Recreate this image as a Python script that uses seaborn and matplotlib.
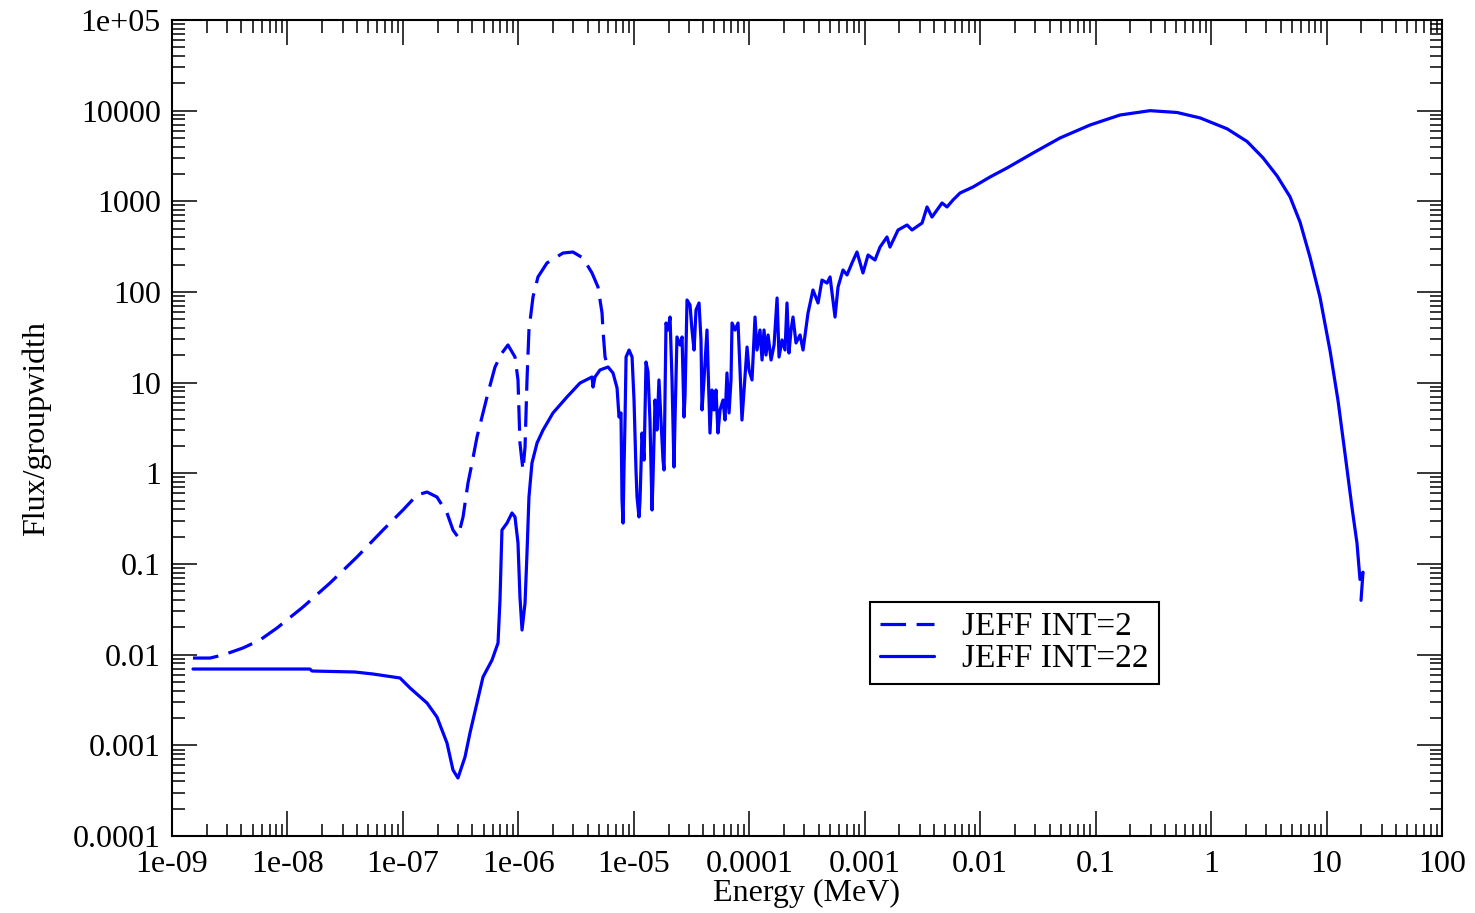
import numpy as np
import pandas as pd
import matplotlib
matplotlib.use("Agg")
import matplotlib.pyplot as plt
import matplotlib.ticker as mticker
import seaborn as sns

# --- Werte (log10 von Energie [MeV] und Flux/groupwidth) ---

# JEFF INT=2 (gestrichelt) - laeuft ab ~5e-6 MeV mit INT=22 zusammen
LOG_E_INT2 = [-8.818, -8.671, -8.558, -8.385, -8.238, -8.091, -7.865, -7.631, -7.398,
              -7.172, -6.999, -6.878, -6.791, -6.705, -6.618, -6.566, -6.523, -6.479,
              -6.436, -6.401, -6.358, -6.315, -6.263, -6.202, -6.142, -6.090, -6.029,
              -6.003, -5.986, -5.960, -5.942, -5.925, -5.908, -5.873, -5.830, -5.752,
              -5.613, -5.527, -5.440, -5.362, -5.310, -5.275, -5.267, -5.249, -5.223]
LOG_F_INT2 = [-2.037, -2.037, -2.003, -1.926, -1.838, -1.706, -1.474, -1.209, -0.923,
              -0.625, -0.404, -0.239, -0.206, -0.261, -0.437, -0.625, -0.702, -0.481,
              -0.106, 0.114, 0.401, 0.621, 0.886, 1.173, 1.327, 1.416, 1.283,
              1.030, 0.335, 0.037, 0.291, 1.030, 1.581, 1.945, 2.166, 2.320,
              2.430, 2.441, 2.375, 2.210, 2.055, 1.768, 1.581, 1.283, 1.173]

# JEFF INT=22 (durchgezogen)
LOG_E_INT22 = [
    # thermischer Bereich + Resonanzen unter 5 eV
    -8.818, -7.805, -7.787, -7.415, -7.259, -7.025, -6.938, -6.791, -6.705,
    -6.618, -6.566, -6.523, -6.462, -6.419, -6.358, -6.306, -6.228, -6.176,
    -6.159, -6.150, -6.142, -6.098, -6.055, -6.029, -6.003, -5.986, -5.968,
    -5.942, -5.925, -5.908, -5.882, -5.838, -5.786, -5.700, -5.579, -5.466,
    -5.362, -5.353, -5.336, -5.293,
    # aufgeloeste Resonanzen (10 eV - 10 keV)
    -5.223, -5.180, -5.145, -5.128, -5.111, -5.102, -5.093, -5.085, -5.076,
    -5.067, -5.041, -5.015, -4.998, -4.981, -4.972, -4.955, -4.946, -4.929,
    -4.911, -4.894, -4.877, -4.860, -4.842, -4.834, -4.816, -4.799, -4.782,
    -4.764, -4.747, -4.738, -4.730, -4.721, -4.704, -4.686, -4.669, -4.652,
    -4.643, -4.626, -4.600, -4.582, -4.565, -4.556, -4.539, -4.513, -4.496,
    -4.478, -4.461, -4.435, -4.418, -4.409, -4.392, -4.366, -4.348, -4.340,
    -4.323, -4.305, -4.288, -4.271, -4.253, -4.227, -4.210, -4.193, -4.175,
    -4.158, -4.149, -4.123, -4.097, -4.080, -4.063, -4.045, -4.019, -4.002,
    -3.976, -3.959, -3.950, -3.933, -3.907, -3.889, -3.872, -3.855, -3.837,
    -3.811, -3.785, -3.759, -3.742, -3.716, -3.690, -3.673, -3.656, -3.638,
    -3.621, -3.595, -3.560, -3.534, -3.491, -3.448, -3.404, -3.370, -3.326,
    -3.300, -3.257, -3.231, -3.188, -3.153, -3.110, -3.067, -3.015, -2.971,
    -2.911, -2.867, -2.807, -2.781, -2.711, -2.633, -2.590, -2.503, -2.460,
    -2.417, -2.330, -2.287, -2.235,
    # Schnellbereich
    -2.174, -2.062, -1.915, -1.767, -1.542, -1.308, -1.048, -0.789, -0.529,
    -0.295, -0.095, 0.139, 0.312, 0.450, 0.572, 0.684, 0.771, 0.858,
    0.944, 1.031, 1.100, 1.161, 1.221, 1.264, 1.290, 1.316, 1.299]
LOG_F_INT22 = [
    -2.158, -2.158, -2.180, -2.191, -2.213, -2.257, -2.367, -2.533, -2.687,
    -2.974, -3.272, -3.360, -3.128, -2.864, -2.533, -2.246, -2.059, -1.871,
    -1.397, -0.989, -0.625, -0.548, -0.437, -0.481, -0.768, -1.364, -1.728,
    -1.430, -0.878, -0.261, 0.114, 0.335, 0.478, 0.666, 0.842, 0.996,
    1.063, 0.952, 1.063, 1.140,
    1.173, 1.107, 0.941, 0.621, 0.666, -0.294, -0.548, 0.037, 0.588,
    1.283, 1.360, 1.283, 0.809, 0.037, -0.261, -0.481, -0.294, 0.445,
    0.147, 1.228, 1.118, 0.588, -0.404, -0.073, 0.809, 0.478, 1.030,
    0.588, 0.147, 0.037, 0.809, 1.658, 1.581, 1.724, 1.030, 0.070,
    0.588, 1.504, 1.416, 1.504, 0.621, 0.864, 1.912, 1.857, 1.581,
    1.360, 1.802, 1.879, 1.471, 0.699, 1.030, 1.581, 0.809, 0.445,
    0.919, 0.699, 0.919, 0.445, 0.699, 0.809, 0.588, 1.107, 0.666,
    1.030, 1.658, 1.581, 1.658, 1.140, 0.588, 0.919, 1.393, 1.140,
    1.030, 1.471, 1.724, 1.360, 1.581, 1.250, 1.581, 1.305, 1.526,
    1.250, 1.416, 1.934, 1.283, 1.471, 1.360, 1.879, 1.327, 1.581,
    1.724, 1.438, 1.526, 1.360, 1.768, 2.022, 1.879, 2.132, 2.099,
    2.166, 1.724, 2.055, 2.243, 2.188, 2.320, 2.441, 2.210, 2.408,
    2.353, 2.496, 2.607, 2.496, 2.684, 2.739, 2.684, 2.761, 2.938,
    2.827, 2.982, 2.938, 3.015,
    3.092, 3.158, 3.268, 3.368, 3.533, 3.699, 3.842, 3.952, 4.000,
    3.980, 3.920, 3.800, 3.660, 3.480, 3.280, 3.050, 2.770, 2.380,
    1.940, 1.350, 0.800, 0.210, -0.380, -0.770, -1.170, -1.090, -1.400]

LABEL_INT2 = "JEFF INT=2"
LABEL_INT22 = "JEFF INT=22"

X_TICKS = [1e-9, 1e-8, 1e-7, 1e-6, 1e-5, 1e-4, 1e-3, 1e-2, 1e-1, 1, 10, 100]
Y_TICKS = [1e-4, 1e-3, 1e-2, 1e-1, 1, 10, 100, 1000, 1e4, 1e5]


def build_frame():
    parts = []
    for lab, le, lf in [(LABEL_INT2, LOG_E_INT2, LOG_F_INT2),
                        (LABEL_INT22, LOG_E_INT22, LOG_F_INT22)]:
        parts.append(pd.DataFrame({
            "energy": np.power(10.0, le),
            "flux": np.power(10.0, lf),
            "series": lab,
        }))
    return pd.concat(parts, ignore_index=True)


def plot_flux(df):
    sns.set_style("ticks")
    plt.rcParams["font.family"] = ["Liberation Serif", "DejaVu Serif"]
    plt.rcParams["font.size"] = 23
    plt.rcParams["text.color"] = "black"
    plt.rcParams["axes.labelcolor"] = "black"

    fig = plt.figure(figsize=(14.75, 9.13), dpi=100)
    ax = fig.add_axes([0.1166, 0.0843, 0.861, 0.8938])

    sns.lineplot(data=df, x="energy", y="flux", style="series",
                 dashes={LABEL_INT2: (8, 3.3), LABEL_INT22: ""},
                 color="#0000ff", linewidth=2.3, estimator=None, sort=False,
                 ax=ax)

    ax.set_xscale("log")
    ax.set_yscale("log")
    ax.set_xlim(1e-9, 100)
    ax.set_ylim(1e-4, 1e5)

    fmt = mticker.FuncFormatter(lambda v, p: f"{v:.5g}")
    ax.xaxis.set_major_locator(mticker.FixedLocator(X_TICKS))
    ax.yaxis.set_major_locator(mticker.FixedLocator(Y_TICKS))
    ax.xaxis.set_major_formatter(fmt)
    ax.yaxis.set_major_formatter(fmt)
    ax.xaxis.set_minor_locator(mticker.LogLocator(base=10, subs=np.arange(2, 10), numticks=100))
    ax.yaxis.set_minor_locator(mticker.LogLocator(base=10, subs=np.arange(2, 10), numticks=100))
    ax.xaxis.set_minor_formatter(mticker.NullFormatter())
    ax.yaxis.set_minor_formatter(mticker.NullFormatter())

    ax.tick_params(which="both", direction="in", top=True, right=True,
                   colors="black", labelsize=23)
    ax.tick_params(which="major", length=18, width=1.1)
    ax.tick_params(which="minor", length=9, width=1.1)
    ax.tick_params(axis="x", which="major", pad=10)
    ax.tick_params(axis="y", which="major", pad=8)
    for sp in ax.spines.values():
        sp.set_visible(True)
        sp.set_linewidth(1.5)
        sp.set_color("black")

    ax.set_xlabel("Energy (MeV)", fontsize=23, labelpad=0)
    ax.set_ylabel("Flux/groupwidth", fontsize=23, labelpad=16)

    # Legende neu aufbauen (ohne seaborn-Titel, eckiger schwarzer Rahmen)
    handles, labels = ax.get_legend_handles_labels()
    keep = [(h, l) for h, l in zip(handles, labels) if l in (LABEL_INT2, LABEL_INT22)]
    leg = ax.legend([h for h, _ in keep], [l for _, l in keep],
                    loc="upper left", bbox_to_anchor=(0.550, 0.287),
                    fontsize=24, frameon=True, fancybox=False, framealpha=1,
                    edgecolor="black", handlelength=1.6, handletextpad=0.85,
                    borderpad=0.3, labelspacing=0.05, borderaxespad=0)
    leg.get_frame().set_linewidth(1.5)
    for line in leg.get_lines():
        line.set_color("#0000ff")
        line.set_linewidth(2.3)

    fig.savefig("out.png", dpi=100)


if __name__ == "__main__":
    plot_flux(build_frame())
